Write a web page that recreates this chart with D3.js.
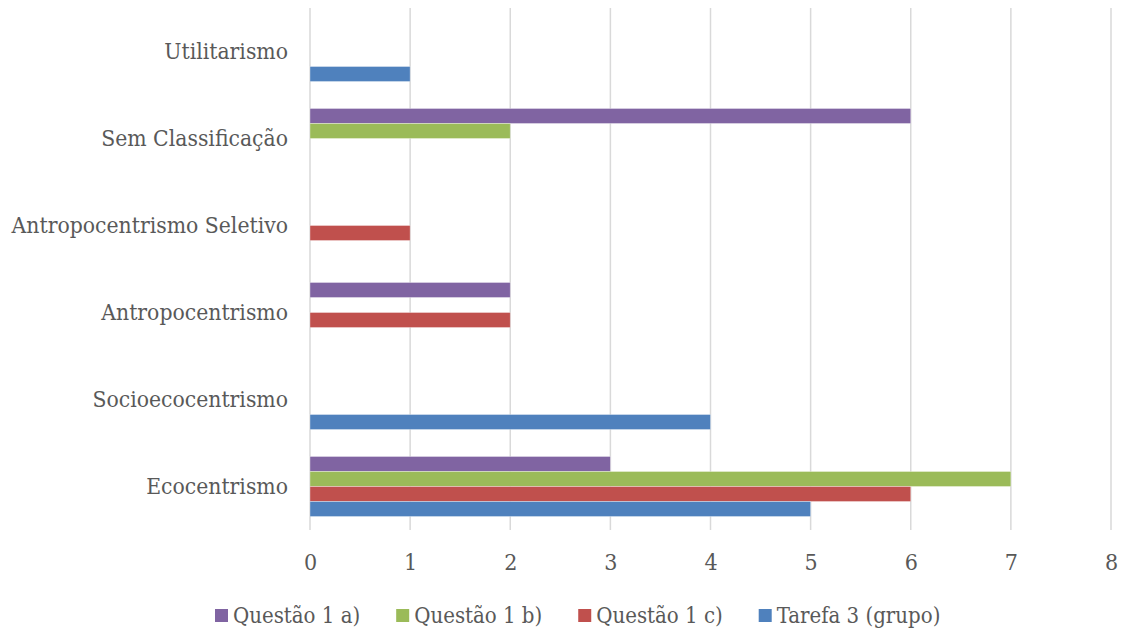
<!DOCTYPE html>
<html>
<head>
<meta charset="utf-8">
<script src="https://cdn.jsdelivr.net/npm/d3@7"></script>
<style>
  body { margin: 0; background: #fff; }
  text { font-family: "DejaVu Serif Condensed", "DejaVu Serif", serif; font-stretch: condensed; fill: #595959; }
</style>
</head>
<body>
<div id="chart"></div>
<script>
// categories, top to bottom as drawn
var categories = ["Utilitarismo", "Sem Classificação", "Antropocentrismo Seletivo",
                  "Antropocentrismo", "Socioecocentrismo", "Ecocentrismo"];
var series = ["Questão 1 a)", "Questão 1 b)", "Questão 1 c)", "Tarefa 3 (grupo)"];
var colors = ["#8064a2", "#9bbb59", "#c0504d", "#4f81bd"];

// values per series, same order as categories
var questao1a = [0, 6, 0, 2, 0, 3];
var questao1b = [0, 2, 0, 0, 0, 7];
var questao1c = [0, 0, 1, 2, 0, 6];
var tarefa3   = [1, 0, 0, 0, 4, 5];
var xTicks = [0, 1, 2, 3, 4, 5, 6, 7, 8];

var values = [questao1a, questao1b, questao1c, tarefa3];

var width = 1131, height = 628;
var svg = d3.select('#chart').append('svg')
    .attr('width', width)
    .attr('height', height);

var x = d3.scaleLinear().domain([0, 8]).range([310, 1111]);
var y0 = d3.scaleBand().domain(categories).range([8, 530])
    .paddingInner(0.31).paddingOuter(0.155);
var y1 = d3.scaleBand().domain(series).range([0, y0.bandwidth()]);

// gridlines
svg.append('g').selectAll('line')
    .data(xTicks)
    .enter().append('line')
    .attr('x1', function(d){ return x(d); })
    .attr('x2', function(d){ return x(d); })
    .attr('y1', 8)
    .attr('y2', 530)
    .attr('stroke', '#d9d9d9')
    .attr('stroke-width', 1.5);

// bars
var rows = [];
categories.forEach(function(c, i){
    series.forEach(function(s, j){
        if (values[j][i] > 0) rows.push({cat: c, ser: s, idx: j, value: values[j][i]});
    });
});

svg.append('g').selectAll('rect')
    .data(rows)
    .enter().append('rect')
    .attr('x', x(0))
    .attr('y', function(d){ return y0(d.cat) + y1(d.ser); })
    .attr('width', function(d){ return x(d.value) - x(0); })
    .attr('height', y1.bandwidth())
    .attr('fill', function(d){ return colors[d.idx]; })
    .attr('stroke', '#ffffff')
    .attr('stroke-opacity', 0.45)
    .attr('stroke-width', 0.75);

// x axis labels
var xAxis = d3.axisBottom(x).tickValues(xTicks).tickSize(0).tickPadding(0);
var gx = svg.append('g').attr('transform', 'translate(0,' + 562 + ')').call(xAxis);
gx.select('.domain').remove();
gx.attr('font-family', null).attr('font-size', null);
gx.selectAll('text')
    .attr('dy', '0.35em')
    .style('font-size', '23px')
    .attr('fill', null);

// category labels
var yAxis = d3.axisLeft(y0).tickSize(0).tickPadding(0);
var gy = svg.append('g').attr('transform', 'translate(288,0)').call(yAxis);
gy.select('.domain').remove();
gy.attr('font-family', null).attr('font-size', null);
gy.selectAll('text')
    .style('font-size', '22.7px')
    .attr('fill', null);

// legend
var legend = svg.append('g');
var lx = 215;
series.forEach(function(s, j){
    var item = legend.append('g').attr('transform', 'translate(' + lx + ',0)');
    item.append('rect')
        .attr('x', 0).attr('y', 609)
        .attr('width', 13).attr('height', 13)
        .attr('fill', colors[j]);
    var t = item.append('text')
        .attr('x', 18).attr('y', 615)
        .attr('dy', '0.35em')
        .style('font-size', '22px')
        .text(s);
    lx += 18 + t.node().getComputedTextLength() + 36;
});
</script>
</body>
</html>
